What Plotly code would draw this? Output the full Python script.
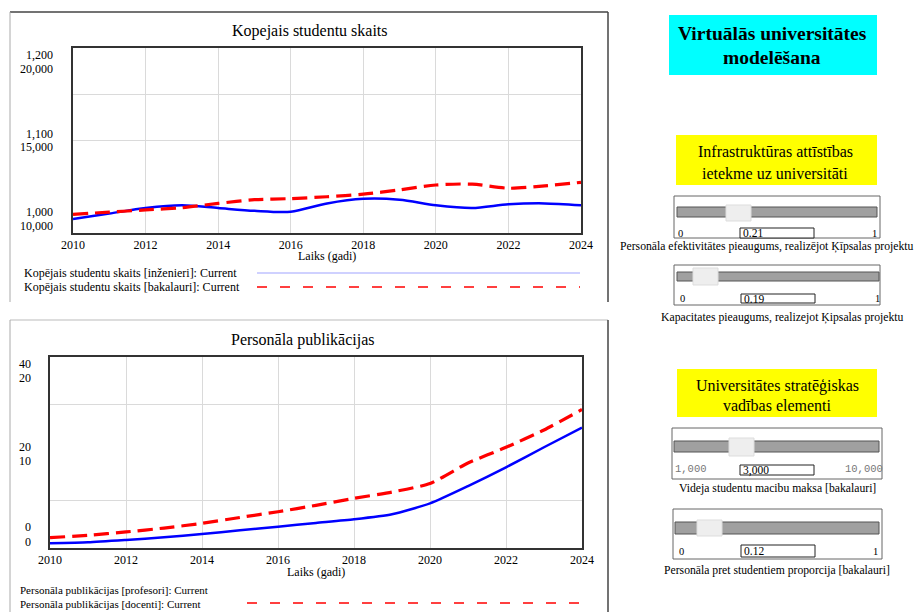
import plotly.graph_objects as go

W, H = 916, 612
SERIF = "Liberation Serif"
MONO = "Liberation Mono"


def px(x):
    return x / W


def py(y):
    return 1 - y / H


# ---------------- data ----------------
years = list(range(2010, 2025))
x_ticks = [2010, 2012, 2014, 2016, 2018, 2020, 2022, 2024]

studenti_inzenieri = [1015, 1021, 1027, 1030, 1027, 1024, 1023, 1032, 1037, 1036, 1030, 1027, 1031, 1032, 1030]
studenti_bakalauri = [11010, 11130, 11250, 11370, 11600, 11800, 11860, 11960, 12100, 12330, 12595, 12640, 12420, 12550, 12740]

publ_profesori = [0.98, 1.19, 1.68, 2.24, 2.93, 3.7, 4.46, 5.24, 6.0, 7.05, 9.36, 12.98, 16.9, 21.1, 25.2]
publ_docenti = [1.08, 1.33, 1.68, 2.09, 2.58, 3.2, 3.8, 4.47, 5.2, 5.86, 6.75, 8.9, 10.54, 12.36, 14.5]

top_ticks_a = [1000, 1100, 1200]
top_ticks_b = [10000, 15000, 20000]
bot_ticks_a = [0, 20, 40]
bot_ticks_b = [0, 10, 20]

top_title = "Kopejais studentu skaits"
bot_title = "Personāla publikācijas"
x_title = "Laiks (gadi)"
top_legend = ["Kopējais studentu skaits [inženieri]: Current",
              "Kopējais studentu skaits [bakalauri]: Current"]
bot_legend = ["Personāla publikācijas [profesori]: Current",
              "Personāla publikācijas [docenti]: Current"]

slider_captions = ["Personāla efektivitātes pieaugums, realizējot Ķīpsalas projektu",
                   "Kapacitates pieaugums, realizejot Ķipsalas projektu",
                   "Videja studentu macibu maksa [bakalauri]",
                   "Personāla pret studentiem proporcija [bakalauri]"]
slider_mins = ["0", "0", "1,000", "0"]
slider_maxs = ["1", "1", "10,000", "1"]
slider_values = ["0.21", "0.19", "3,000", "0.12"]

# ---------------- figure ----------------
fig = go.Figure()
fig.add_trace(go.Scatter(x=years, y=studenti_inzenieri, xaxis="x", yaxis="y", mode="lines",
                         line=dict(color="#0000ff", width=2.5, shape="spline", smoothing=0.8)))
fig.add_trace(go.Scatter(x=years, y=studenti_bakalauri, xaxis="x", yaxis="y2", mode="lines",
                         line=dict(color="#ff0000", width=3.2, dash="15px,7px", shape="spline", smoothing=0.8)))
fig.add_trace(go.Scatter(x=years, y=publ_profesori, xaxis="x2", yaxis="y3", mode="lines",
                         line=dict(color="#0000ff", width=2.5, shape="spline", smoothing=0.6)))
fig.add_trace(go.Scatter(x=years, y=publ_docenti, xaxis="x2", yaxis="y4", mode="lines",
                         line=dict(color="#ff0000", width=3.2, dash="15px,7px", shape="spline", smoothing=0.6)))

xcommon = dict(range=[2010, 2024], tickvals=x_ticks, ticks="", showgrid=True, gridcolor="#dadada",
               showline=True, mirror=True, linecolor="#333333", linewidth=1.5, zeroline=False,
               automargin=False, tickfont=dict(family=SERIF, size=12, color="black"), fixedrange=True)
ycommon = dict(showticklabels=False, ticks="", showgrid=True, gridcolor="#dadada", automargin=False,
               showline=True, mirror=True, linecolor="#333333", linewidth=1.5, zeroline=False)

fig.update_layout(
    template="none",
    width=W, height=H, autosize=False, margin=dict(l=0, r=0, t=0, b=0, pad=0),
    paper_bgcolor="white", plot_bgcolor="white", showlegend=False,
    xaxis=dict(domain=[px(73), px(581)], anchor="y", **xcommon),
    yaxis=dict(domain=[py(233), py(48)], range=[top_ticks_a[0], top_ticks_a[-1]],
               tickvals=[1100, 1150], **ycommon),
    yaxis2=dict(overlaying="y", range=[top_ticks_b[0], top_ticks_b[-1]], visible=False, automargin=False),
    xaxis2=dict(domain=[px(50), px(582)], anchor="y3", **xcommon),
    yaxis3=dict(domain=[py(548), py(357)], range=[bot_ticks_a[0], bot_ticks_a[-1]],
                tickvals=[10, 30], anchor="x2", **ycommon),
    yaxis4=dict(overlaying="y3", range=[bot_ticks_b[0], bot_ticks_b[-1]], visible=False, anchor="x2",
                automargin=False),
)

ann = []
shapes = []


def text(x, y, t, size=12, xanchor="center", yanchor="middle", color="black", family=SERIF):
    ann.append(dict(x=px(x), y=py(y), xref="paper", yref="paper", text=t, showarrow=False,
                    xanchor=xanchor, yanchor=yanchor, font=dict(family=family, size=size, color=color)))


def axis_label(xr, yref, val, t, shift):
    ann.append(dict(x=px(xr), y=val, xref="paper", yref=yref, text=t, showarrow=False,
                    xanchor="right", yanchor="middle", yshift=shift,
                    font=dict(family=SERIF, size=12, color="black")))


def line(x0, y0, x1, y1, color, width=1, dash="solid"):
    shapes.append(dict(type="line", xref="paper", yref="paper", x0=px(x0), y0=py(y0), x1=px(x1), y1=py(y1),
                       line=dict(color=color, width=width, dash=dash)))


def rect(x0, y0, x1, y1, fill, lc=None, lw=0):
    shapes.append(dict(type="rect", xref="paper", yref="paper", x0=px(x0), y0=py(y0), x1=px(x1), y1=py(y1),
                       fillcolor=fill, line=dict(color=lc if lc else fill, width=lw), layer="above"))


# panel borders
line(10, 12, 608, 12, "#444444", 1.5)
line(10, 12, 10, 302, "#aaaaaa", 1)
line(608, 12, 608, 302, "#444444", 1.5)
line(10, 320, 608, 320, "#bbbbbb", 1)
line(10, 320, 10, 612, "#aaaaaa", 1)
line(608, 320, 608, 612, "#444444", 1.5)

# titles
text(310, 31, top_title, 16)
text(303, 340, bot_title, 16)

# stacked y tick labels (pixel shifts of the two lines relative to the tick value)
top_shifts = [(21, 7), (6.5, -6.5), (-7.5, -21.5)]
for a, b, (s1, s2) in zip(top_ticks_a, top_ticks_b, top_shifts):
    axis_label(55, "y", a, f"{a:,}", s1)
    axis_label(55, "y", a, f"{b:,}", s2)
bot_shifts = [(21, 6), (6, -8), (-7, -21)]
for a, b, (s1, s2) in zip(bot_ticks_a, bot_ticks_b, bot_shifts):
    axis_label(33, "y3", a, f"{a:,}", s1)
    axis_label(33, "y3", a, f"{b:,}", s2)

# axis titles
text(327, 256, x_title, 12)
text(316, 572, x_title, 12)

# legends
text(22, 273, top_legend[0], 12, xanchor="left")
text(22, 287, top_legend[1], 12, xanchor="left")
line(257, 273, 580, 273, "#a0a4ff", 1.2)
line(257, 287, 580, 287, "#ff0000", 1.6, "10px,13px")
text(18, 589.5, bot_legend[0], 11, xanchor="left")
text(18, 604, bot_legend[1], 11, xanchor="left")
line(247, 603, 580, 603, "#ff0000", 1.6, "10px,13px")

# right side: header boxes
rect(669, 15, 877, 75, "#00ffff")
text(772, 33, "<b>Virtuālās universitātes</b>", 19.5)
text(772, 57, "<b>modelēšana</b>", 19.5)
rect(676, 135, 877, 185, "#ffff00")
text(775, 151, "Infrastruktūras attīstības", 16)
text(775, 173, "ietekme uz universitāti", 16)
rect(677, 369, 877, 417, "#ffff00")
text(777, 386, "Universitātes stratēģiskas", 16)
text(777, 405, "vadības elementi", 16)

# sliders (pixel geometry of the widgets)
slider_geo = [
    dict(box=(674, 196, 880, 238), track=(677, 207, 877, 217), thumb=(726, 205, 751, 221),
         lab_y=233, minx=680, vbox=(740, 228, 814, 238), maxx=874, cap=(767, 246)),
    dict(box=(674, 265, 880, 305), track=(677, 272, 879, 281), thumb=(693, 268, 718, 285),
         lab_y=298, minx=682, vbox=(741, 294, 815, 303), maxx=877, cap=(782, 317)),
    dict(box=(672, 428, 882, 479), track=(674, 441, 879, 452), thumb=(729, 438, 754, 456),
         lab_y=469, minx=691, vbox=(740, 465, 814, 475), maxx=864, cap=(777, 488)),
    dict(box=(673, 509, 882, 559), track=(675, 522, 879, 534), thumb=(697, 520, 722, 536),
         lab_y=551, minx=681, vbox=(741, 545, 815, 557), maxx=875, cap=(777, 570)),
]
for g, cap, mn, mx, val in zip(slider_geo, slider_captions, slider_mins, slider_maxs, slider_values):
    rect(*g["box"], "rgba(0,0,0,0)", "#666666", 1)
    rect(*g["track"], "#a0a0a0", "#555555", 1)
    rect(*g["thumb"], "#eeeeee", "#dddddd", 1)
    rect(*g["vbox"], "white", "#222222", 1)
    mono = "," in mn
    text(g["minx"], g["lab_y"], mn, 10.5, color="#777777" if mono else "black",
         family=MONO if mono else SERIF)
    text(g["maxx"], g["lab_y"], mx, 10.5, color="#777777" if mono else "black",
         family=MONO if mono else SERIF)
    text(g["vbox"][0] + 1, (g["vbox"][1] + g["vbox"][3]) / 2, val, 11.5, xanchor="left")
    text(g["cap"][0], g["cap"][1], cap, 11.7)

fig.update_layout(annotations=ann, shapes=shapes)

post = ("document.body.style.margin='0';document.body.style.padding='0';"
        "document.body.style.overflow='hidden';"
        "var gd=document.getElementById('{plot_id}');"
        "Plotly.relayout(gd,{width:916,height:612});")
fig.write_html("out.html", post_script=post, config={"responsive": False, "displayModeBar": False})
